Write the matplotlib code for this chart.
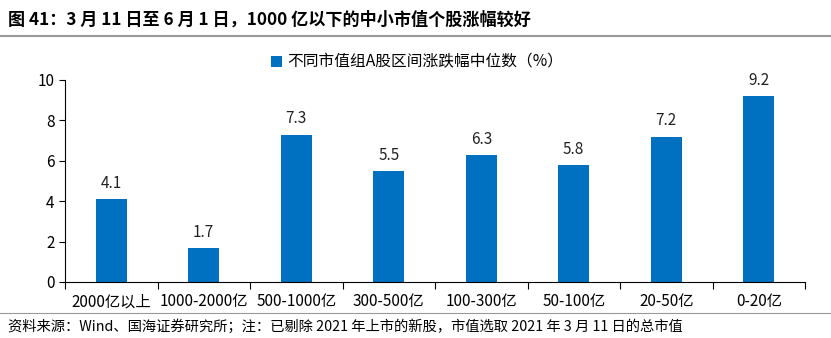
import matplotlib
matplotlib.use("Agg")
import matplotlib.pyplot as plt
from matplotlib.lines import Line2D

plt.rcParams['font.family'] = ['Noto Sans CJK SC', 'DejaVu Sans']

categories = ["2000亿以上", "1000-2000亿", "500-1000亿", "300-500亿",
              "100-300亿", "50-100亿", "20-50亿", "0-20亿"]
values = [4.1, 1.7, 7.3, 5.5, 6.3, 5.8, 7.2, 9.2]
series_name = "不同市值组A股区间涨跌幅中位数（%）"
title = "图 41：3 月 11 日至 6 月 1 日，1000 亿以下的中小市值个股涨幅较好"
source = "资料来源：Wind、国海证券研究所；注：已剔除 2021 年上市的新股，市值选取 2021 年 3 月 11 日的总市值"

BAR_COLOR = "#0070C0"

fig = plt.figure(figsize=(8.31, 3.38), dpi=100)
ax = fig.add_axes([65/831, 1 - 282/338, 740/831, 202/338])

x = range(len(categories))
ax.bar(x, values, width=0.33, color=BAR_COLOR, label=series_name)
for xi, v in zip(x, values):
  ax.text(xi, v + 0.35, f"{v:.1f}", ha="center", va="bottom", fontsize=11,
          color="#222222")

ax.set_xlim(-0.5, len(categories) - 0.5)
ax.set_ylim(0, 10)
ax.set_yticks(range(0, 11, 2))
ax.tick_params(axis="y", direction="out", length=4, labelsize=11)
ax.set_xticks([i - 0.5 for i in range(len(categories) + 1)], minor=False)
ax.set_xticklabels([""] * (len(categories) + 1))
ax.tick_params(axis="x", direction="out", length=5)
ax.set_xticks(list(x), minor=True)
ax.set_xticklabels(categories, minor=True, fontsize=11)
ax.tick_params(axis="x", which="minor", length=0, pad=8)

for s in ["top", "right"]:
  ax.spines[s].set_visible(False)

ax.legend(loc="upper center", bbox_to_anchor=(0.476, 1.2), frameon=False,
          fontsize=11.3, handlelength=0.7, handleheight=0.7, handletextpad=0.3)

fig.text(8/831, 1 - 20/338, title, fontsize=12.3, fontweight="bold",
         va="center", ha="left")
fig.add_artist(Line2D([0, 1], [1 - 36/338] * 2, color="#999999", lw=1.5))
fig.add_artist(Line2D([0, 1], [1 - 313/338] * 2, color="#999999", lw=0.8))
fig.text(8/831, 1 - 326/338, source, fontsize=10.3, va="center", ha="left")

fig.savefig("out.png", dpi=100)
